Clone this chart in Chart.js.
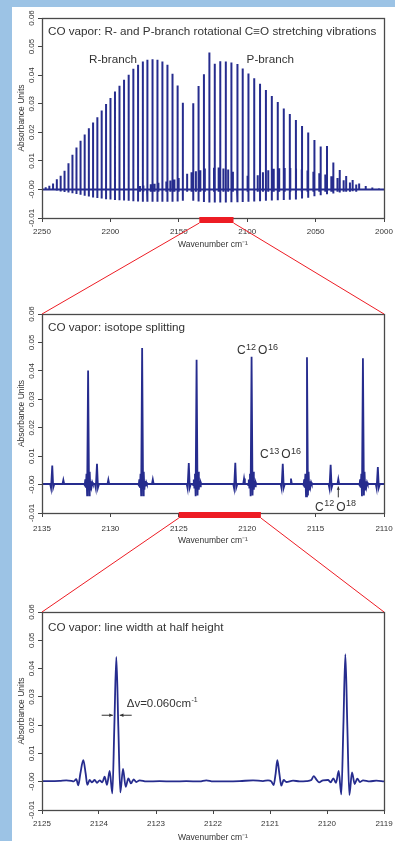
<!DOCTYPE html>
<html>
<head>
<meta charset="utf-8">
<script src="https://cdn.jsdelivr.net/npm/chart.js@4.4.0/dist/chart.umd.min.js"></script>
<style>
html, body { margin: 0; padding: 0; }
body { width: 395px; height: 841px; position: relative; background: #fff; overflow: hidden; }
.band { position: absolute; background: #9cc3e5; }
canvas { position: absolute; }
</style>
</head>
<body>
<div class="band" style="left:0;top:0;width:395px;height:7px"></div>
<div class="band" style="left:0;top:0;width:12px;height:841px"></div>
<canvas id="c1" width="383" height="243" style="left:12px;top:7px"></canvas>
<canvas id="c2" width="383" height="250" style="left:12px;top:296px"></canvas>
<canvas id="c3" width="383" height="247" style="left:12px;top:594px"></canvas>
<canvas id="links" width="395" height="841" style="left:0;top:0;pointer-events:none"></canvas>
<script>
// ---- axes ----
const X1_TICKS = [2250, 2200, 2150, 2100, 2050, 2000];
const X2_TICKS = [2135, 2130, 2125, 2120, 2115, 2110];
const X3_TICKS = [2125, 2124, 2123, 2122, 2121, 2120, 2119];
const Y_TICKS = [-0.01, 0, 0.01, 0.02, 0.03, 0.04, 0.05, 0.06];
const Y_LABELS = ['-0.01', '-0.00', '0.01', '0.02', '0.03', '0.04', '0.05', '0.06'];

// ---- panel 1: full band, 12CO R and P branch (cm-1, AU) ----
const rBranchPos = [2247.3, 2244.64, 2241.92, 2239.16, 2236.36, 2233.52, 2230.65, 2227.74, 2224.80, 2221.82, 2218.80, 2215.75, 2212.66, 2209.53, 2206.37, 2203.17, 2199.94, 2196.66, 2193.36, 2190.02, 2186.64, 2183.22, 2179.77, 2176.28, 2172.76, 2169.20, 2165.60, 2161.97, 2158.30, 2154.60, 2150.86, 2147.08];
const rBranchPeak = [0.0008, 0.0013, 0.0021, 0.0036, 0.0048, 0.0065, 0.0092, 0.0121, 0.0147, 0.0170, 0.0192, 0.0214, 0.0234, 0.0253, 0.0276, 0.0299, 0.0320, 0.0343, 0.0363, 0.0384, 0.0401, 0.0422, 0.0436, 0.0448, 0.0454, 0.0456, 0.0454, 0.0448, 0.0436, 0.0405, 0.0364, 0.0303];
const rBranchDip = [-0.0001, -0.0002, -0.0003, -0.0005, -0.0007, -0.0009, -0.0011, -0.0013, -0.0016, -0.0019, -0.0022, -0.0025, -0.0028, -0.0030, -0.0032, -0.0034, -0.0035, -0.0037, -0.0038, -0.0039, -0.0040, -0.0041, -0.0042, -0.0043, -0.0043, -0.0043, -0.0043, -0.0043, -0.0043, -0.0043, -0.0042, -0.0040];
const pBranchPos = [2139.43, 2135.55, 2131.63, 2127.68, 2123.70, 2119.68, 2115.63, 2111.54, 2107.42, 2103.27, 2099.08, 2094.86, 2090.61, 2086.32, 2082.00, 2077.65, 2073.26, 2068.85, 2064.40, 2059.91, 2055.40, 2050.85, 2046.28, 2041.67, 2037.03, 2032.35, 2027.65, 2022.92, 2018.16, 2013.36, 2008.54, 2003.68];
const pBranchPeak = [0.0302, 0.0362, 0.0403, 0.0479, 0.0440, 0.0449, 0.0448, 0.0444, 0.0439, 0.0423, 0.0406, 0.0389, 0.0370, 0.0348, 0.0327, 0.0306, 0.0283, 0.0264, 0.0243, 0.0222, 0.0199, 0.0173, 0.0150, 0.0152, 0.0094, 0.0068, 0.0047, 0.0033, 0.0021, 0.0012, 0.0007, 0.0004];
const pBranchDip = [-0.0040, -0.0042, -0.0044, -0.0046, -0.0046, -0.0046, -0.0046, -0.0045, -0.0045, -0.0044, -0.0043, -0.0042, -0.0041, -0.0040, -0.0039, -0.0038, -0.0037, -0.0036, -0.0035, -0.0032, -0.0029, -0.0024, -0.0020, -0.0017, -0.0014, -0.0011, -0.0008, -0.0006, -0.0004, -0.0003, -0.0002, -0.0001];
// 13CO lines seen between the main lines
const iso13Pos = [2178.4, 2175.9, 2173.2, 2170.5, 2167.7, 2164.9, 2162.0, 2159.1, 2156.2, 2153.2, 2150.1, 2147.0, 2143.9, 2140.7, 2137.5, 2134.25, 2130.98, 2127.6, 2124.27, 2120.87, 2117.40, 2113.90, 2110.45, 2106.9, 2103.3, 2099.7, 2092.3, 2088.5, 2084.6, 2080.6, 2076.6, 2072.6, 2068.5, 2064.3, 2060.1, 2055.9, 2051.6, 2047.3, 2042.9, 2038.5, 2034.0, 2029.5, 2024.9, 2020.3];
const iso13Peak = [0.0012, 0.0014, 0.0016, 0.0018, 0.0020, 0.0023, 0.0025, 0.0028, 0.0031, 0.0035, 0.0040, 0.0046, 0.0055, 0.0060, 0.0064, 0.0067, 0.0073, 0.0074, 0.0076, 0.0077, 0.0073, 0.0070, 0.0062, 0.0060, 0.0055, 0.0048, 0.0050, 0.0060, 0.0067, 0.0072, 0.0074, 0.0075, 0.0075, 0.0073, 0.0070, 0.0066, 0.0062, 0.0057, 0.0052, 0.0046, 0.0040, 0.0032, 0.0024, 0.0017];

// ---- panel 2: 2135-2110 cm-1 ----
const p2MainPos = [2131.63, 2127.68, 2123.70, 2119.68, 2115.63, 2111.54];
const p2MainPeak = [0.0401, 0.0480, 0.0439, 0.0450, 0.0448, 0.0444];
const p2IsoPos = [2134.25, 2130.98, 2124.27, 2120.87, 2117.40, 2113.90, 2110.45];
const p2IsoPeak = [0.0067, 0.0073, 0.0076, 0.0077, 0.0073, 0.0070, 0.0062];
const p2SmallPos = [2133.44, 2130.15, 2126.90, 2120.23, 2116.80, 2113.34];
const p2SmallPeak = [0.0016, 0.0017, 0.0018, 0.0021, 0.0021, 0.0019];
// side lobes around a main line in panel 3 (offset cm-1, AU)
const ringOffset = [0.30, 0.246, 0.205, 0.164, 0.117, 0.070, -0.070, -0.117, -0.164, -0.211, -0.257, -0.304, -0.35];
const ringValue = [0.0002, -0.0002, 0.0018, -0.0011, 0.0038, -0.0041, -0.0038, 0.0045, -0.0018, 0.0012, -0.0006, 0.0008, 0.0002];
const baseline = 0.0002;

// ---- panel 3: 2125-2119 cm-1 trace ----
const p3Wavenumber = [2125.000, 2124.865, 2124.690, 2124.573, 2124.485, 2124.444, 2124.398, 2124.363, 2124.327, 2124.275, 2124.234, 2124.205, 2124.164, 2124.123, 2124.076, 2124.035, 2123.988, 2123.942, 2123.901, 2123.860, 2123.813, 2123.766, 2123.731, 2123.696, 2123.661, 2123.626, 2123.579, 2123.532, 2123.485, 2123.439, 2123.392, 2123.345, 2123.287, 2123.170, 2122.936, 2122.702, 2122.468, 2122.234, 2122.117, 2122.000, 2121.766, 2121.532, 2121.298, 2121.123, 2121.035, 2120.977, 2120.936, 2120.901, 2120.871, 2120.836, 2120.801, 2120.760, 2120.713, 2120.596, 2120.480, 2120.363, 2120.275, 2120.234, 2120.187, 2120.140, 2120.070, 2119.982, 2119.936, 2119.889, 2119.842, 2119.795, 2119.749, 2119.713, 2119.678, 2119.643, 2119.608, 2119.561, 2119.515, 2119.468, 2119.421, 2119.368, 2119.251, 2119.135, 2119.000];
const p3Absorbance = [0.0002, 0.0002, 0.0003, 0.0005, 0.0003, 0.0001, 0.0009, -0.0013, 0.0029, 0.0076, 0.0029, -0.0011, 0.0006, -0.0002, 0.0006, -0.0004, 0.0005, -0.0002, 0.0018, -0.0011, 0.0038, -0.0041, 0.0194, 0.0441, 0.0194, -0.0038, 0.0045, -0.0018, 0.0012, -0.0006, 0.0008, -0.0001, 0.0005, 0.0001, 0.0002, 0.0001, 0.0002, 0.0001, 0.0005, 0.0001, 0.0001, 0.0002, 0.0005, 0.0002, 0.0005, 0.0001, -0.0012, 0.0029, 0.0076, 0.0029, -0.0014, 0.0006, -0.0001, 0.0004, 0.0001, 0.0002, 0.0006, 0.0020, 0.0008, -0.0002, 0.0005, 0.0006, -0.0002, 0.0012, -0.0004, 0.0038, -0.0045, 0.0194, 0.0451, 0.0194, -0.0047, 0.0033, -0.0008, 0.0011, -0.0001, 0.0005, 0.0001, 0.0004, 0.0001];

const TRACE = '#262c8e';
const INK = '#333';
const FONT = '"Liberation Sans", Arial, sans-serif';

// panel 1 points: every line is a vertical stroke, joined along the baseline
const lines1 = [];
rBranchPos.forEach((p, i) => lines1.push([p, rBranchPeak[i], rBranchDip[i]]));
pBranchPos.forEach((p, i) => lines1.push([p, pBranchPeak[i], pBranchDip[i]]));
iso13Pos.forEach((p, i) => lines1.push([p, iso13Peak[i], -0.0008]));
lines1.sort((a, b) => b[0] - a[0]);
const points1 = [{ x: 2250, y: 0 }];
lines1.forEach(([p, h, d]) => {
    points1.push({ x: p, y: 0 }, { x: p, y: h }, { x: p, y: d }, { x: p, y: 0 });
});
points1.push({ x: 2000, y: 0 });

// panel 2 points
const points2 = [{ x: 2135, y: baseline }, { x: 2110, y: baseline }];
p2MainPos.forEach((p, i) => {
    ringOffset.forEach((o, k) => points2.push({ x: p + o, y: ringValue[k] }));
    points2.push({ x: p, y: p2MainPeak[i] });
});
p2IsoPos.forEach((p, i) => {
    points2.push({ x: p + 0.15, y: baseline }, { x: p + 0.088, y: -0.0013 }, { x: p, y: p2IsoPeak[i] },
        { x: p - 0.07, y: -0.0011 }, { x: p - 0.15, y: baseline });
});
p2SmallPos.forEach((p, i) => {
    points2.push({ x: p + 0.06, y: baseline }, { x: p, y: p2SmallPeak[i] }, { x: p - 0.06, y: baseline });
});
points2.sort((a, b) => b.x - a.x);

// panel 3 points
const points3 = p3Wavenumber.map((w, i) => ({ x: w, y: p3Absorbance[i] })).sort((a, b) => a.x - b.x);

function frameAndText(draw) {
    return {
        id: 'frameAndText',
        afterDraw(chart) {
            const { ctx, chartArea: a } = chart;
            ctx.save();
            ctx.strokeStyle = '#4a4a4a';
            ctx.lineWidth = 1.3;
            ctx.strokeRect(Math.round(a.left) + 0.5, Math.round(a.top) + 0.5,
                Math.round(a.right - a.left), Math.round(a.bottom - a.top));
            ctx.fillStyle = INK;
            ctx.strokeStyle = INK;
            draw(ctx, chart);
            ctx.restore();
        }
    };
}

function textAt(ctx, str, x, y, size, align) {
    ctx.font = size + 'px ' + FONT;
    ctx.textAlign = align || 'left';
    ctx.textBaseline = 'middle';
    ctx.fillText(str, x, y);
}

// text with superscripts, parts = [[text, isSup], ...], y is the baseline
function supText(ctx, parts, x, y, big, small, rise) {
    ctx.textAlign = 'left';
    ctx.textBaseline = 'alphabetic';
    let cx = x;
    parts.forEach(([t, sup]) => {
        ctx.font = (sup ? small : big) + 'px ' + FONT;
        ctx.fillText(t, cx, sup ? y - rise : y);
        cx += ctx.measureText(t).width + (sup ? 2 : 0.5);
    });
}

function arrow(ctx, x1, y1, x2, y2, head) {
    const ang = Math.atan2(y2 - y1, x2 - x1);
    ctx.lineWidth = 1;
    ctx.beginPath();
    ctx.moveTo(x1, y1);
    ctx.lineTo(x2, y2);
    ctx.stroke();
    ctx.beginPath();
    ctx.moveTo(x2, y2);
    ctx.lineTo(x2 - head * Math.cos(ang - 0.45), y2 - head * Math.sin(ang - 0.45));
    ctx.lineTo(x2 - head * Math.cos(ang + 0.45), y2 - head * Math.sin(ang + 0.45));
    ctx.closePath();
    ctx.fill();
}

function makeChart(id, o) {
    return new Chart(document.getElementById(id), {
        type: 'scatter',
        data: {
            datasets: [{
                data: o.points,
                showLine: true,
                borderColor: TRACE,
                borderWidth: o.lineWidth,
                pointRadius: 0,
                tension: o.smooth ? 0.4 : 0,
                cubicInterpolationMode: o.smooth ? 'monotone' : 'default'
            }]
        },
        options: {
            responsive: false,
            animation: false,
            devicePixelRatio: 1,
            events: [],
            layout: { padding: { top: o.padTop, right: 11, bottom: 0, left: 0 } },
            plugins: { legend: { display: false }, tooltip: { enabled: false } },
            scales: {
                x: {
                    type: 'linear',
                    reverse: true,
                    min: o.xTicks[o.xTicks.length - 1],
                    max: o.xTicks[0],
                    afterBuildTicks: s => { s.ticks = o.xTicks.map(v => ({ value: v })); },
                    afterFit: s => { s.height = o.axisH; s.paddingLeft = 0; s.paddingRight = 0; },
                    ticks: { font: { size: 8, family: FONT }, color: INK, padding: o.tickPad, maxRotation: 0, autoSkip: false, callback: v => String(v) },
                    grid: { drawOnChartArea: false, drawTicks: true, tickLength: 4, color: '#444' },
                    border: { display: false },
                    title: { display: true, text: 'Wavenumber cm⁻¹', color: INK, font: { size: 8.5, family: FONT }, padding: { top: 0, bottom: o.titlePad } }
                },
                y: {
                    min: -0.01,
                    max: 0.06,
                    afterBuildTicks: s => { s.ticks = Y_TICKS.map(v => ({ value: v })); },
                    afterFit: s => { s.width = 30; s.paddingTop = 0; s.paddingBottom = 0; },
                    ticks: { font: { size: 8, family: FONT }, color: INK, minRotation: 90, maxRotation: 90, crossAlign: 'center', padding: -3, callback: (v, i) => Y_LABELS[i] },
                    grid: { drawOnChartArea: false, drawTicks: true, tickLength: 4, color: '#444' },
                    border: { display: false },
                    title: { display: true, text: 'Absorbance Units', color: INK, font: { size: 8.5, family: FONT }, padding: { top: 4.5, bottom: 0 } }
                }
            }
        },
        plugins: [frameAndText(o.draw)]
    });
}

const chart1 = makeChart('c1', {
    points: points1, lineWidth: 2, xTicks: X1_TICKS, padTop: 11, axisH: 32, tickPad: 5.3, titlePad: 0.7,
    draw(ctx, ch) {
        const { x, y } = ch.scales, a = ch.chartArea;
        textAt(ctx, 'CO vapor: R- and P-branch rotational C\u2261O stretching vibrations', a.left + 6, a.top + 14, 11.7);
        textAt(ctx, 'R-branch', x.getPixelForValue(2198.1), y.getPixelForValue(0.0455), 11.7, 'center');
        textAt(ctx, 'P-branch', x.getPixelForValue(2083.1), y.getPixelForValue(0.0455), 11.7, 'center');
    }
});

const chart2 = makeChart('c2', {
    points: points2, lineWidth: 1.8, xTicks: X2_TICKS, padTop: 18, axisH: 33, tickPad: 6.8, titlePad: 0.3,
    draw(ctx, ch) {
        const { x, y } = ch.scales, a = ch.chartArea;
        textAt(ctx, 'CO vapor: isotope splitting', a.left + 6, a.top + 14, 11.7);
        supText(ctx, [['C', 0], ['12', 1], ['O', 0], ['16', 1]], x.getPixelForValue(2120.75), y.getPixelForValue(0.0459), 12, 9, 4.5);
        supText(ctx, [['C', 0], ['13', 1], ['O', 0], ['16', 1]], x.getPixelForValue(2119.06), y.getPixelForValue(0.00925), 12, 9, 4.5);
        supText(ctx, [['C', 0], ['12', 1], ['O', 0], ['18', 1]], x.getPixelForValue(2115.04), y.getPixelForValue(-0.0092), 12, 9, 4.5);
        arrow(ctx, x.getPixelForValue(2113.34), y.getPixelForValue(-0.0045), x.getPixelForValue(2113.34), y.getPixelForValue(-0.0007), 3.5);
    }
});

const chart3 = makeChart('c3', {
    points: points3, lineWidth: 1.8, smooth: true, xTicks: X3_TICKS, padTop: 18, axisH: 31, tickPad: 5.1, titlePad: -1.5,
    draw(ctx, ch) {
        const { x, y } = ch.scales, a = ch.chartArea;
        textAt(ctx, 'CO vapor: line width at half height', a.left + 6, a.top + 16, 11.7);
        supText(ctx, [['\u0394v=0.060cm', 0], ['-1', 1]], x.getPixelForValue(2123.514), y.getPixelForValue(0.0278) + 4, 11.5, 7, 5);
        const ay = y.getPixelForValue(0.0235);
        arrow(ctx, x.getPixelForValue(2123.953), ay, x.getPixelForValue(2123.757), ay, 4);
        arrow(ctx, x.getPixelForValue(2123.426), ay, x.getPixelForValue(2123.635), ay, 4);
    }
});

// red zoom markers and connecting lines between the panels
(function drawLinks() {
    const ctx = document.getElementById('links').getContext('2d');
    const offs = [[chart1, 12, 7], [chart2, 12, 296], [chart3, 12, 594]];
    ctx.strokeStyle = '#ed1c24';
    ctx.fillStyle = '#ed1c24';
    ctx.lineWidth = 1;
    for (let i = 0; i < 2; i++) {
        const [src, sx, sy] = offs[i];
        const [dst, dx, dy] = offs[i + 1];
        const lo = dst.scales.x.max, hi = dst.scales.x.min;
        const xa = sx + src.scales.x.getPixelForValue(lo);
        const xb = sx + src.scales.x.getPixelForValue(hi);
        const yb = sy + src.chartArea.bottom;
        ctx.fillRect(xa, yb - 1, xb - xa, 6);
        ctx.beginPath();
        ctx.moveTo(xa, yb + 5);
        ctx.lineTo(dx + dst.chartArea.left, dy + dst.chartArea.top);
        ctx.moveTo(xb, yb + 5);
        ctx.lineTo(dx + dst.chartArea.right, dy + dst.chartArea.top);
        ctx.stroke();
    }
})();
</script>
</body>
</html>
